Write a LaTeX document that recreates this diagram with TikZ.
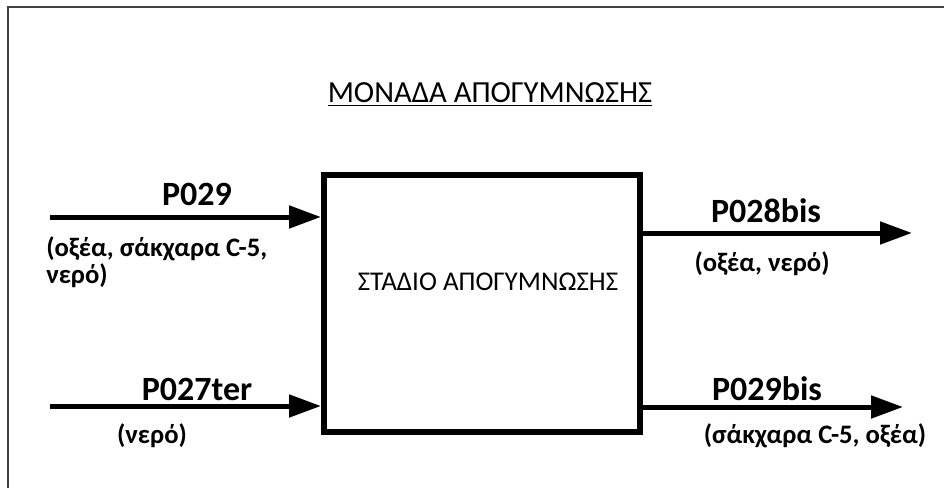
\documentclass[tikz,border=0pt]{standalone}
\usepackage{fontspec}
\setmainfont{Carlito}
\usetikzlibrary{arrows.meta}

\tikzset{
  flow/.style={line width=3.75pt, -{Triangle[length=24pt,width=16.5pt]}},
  plabel/.style={anchor=base, inner sep=0.75pt, font=\fontsize{25.5}{30}\selectfont\bfseries},
  slabel/.style={inner sep=0.75pt, font=\fontsize{20}{20.25}\selectfont\bfseries},
  frame/.style={line width=1.5pt, color=black!75},
}

\begin{document}
\begin{tikzpicture}[x=0.75pt,y=0.75pt,yscale=-1,xscale=1]
\useasboundingbox (0,0) rectangle (944,488);

% Frame
\draw [frame] (8,488) |- (944,7);

% Title
\node [anchor=base, inner sep=0.75pt, font=\fontsize{23}{27}\selectfont] (title) at (490,103) {\underline{ΜΟΝΑΔΑ ΑΠΟΓΥΜΝΩΣΗΣ}};

% Stage box
\node [draw, line width=4.5pt, minimum width=237pt, minimum height=192.75pt] (stage) at (482,303.5) {};
\node [anchor=base, inner sep=0.75pt, font=\fontsize{20.3}{24}\selectfont] (stagetext) at (488,290) {ΣΤΑΔΙΟ ΑΠΟΓΥΜΝΩΣΗΣ};

% Free ends of the streams
\coordinate (in1) at (50,217);
\coordinate (in2) at (50,406);
\coordinate (out1) at (912,233);
\coordinate (out2) at (903,407);

% Straight Lines
\draw [flow] (in1) -- (in1 -| stage.west);
\draw [flow] (in2) -- (in2 -| stage.west);
\draw [flow] (out1 -| stage.east) -- (out1);
\draw [flow] (out2 -| stage.east) -- (out2);

% Text Node
\node [plabel] (p029) at (197,205) {P029};
% Text Node
\node [slabel, anchor=base west, align=left] (p029txt) at (45,283) {(οξέα, σάκχαρα C-5,\\νερό)};
% Text Node
\node [plabel] (p027ter) at (197,400) {P027ter};
% Text Node
\node [slabel, anchor=base] (p027tertxt) at (152,443) {(νερό)};
% Text Node
\node [plabel] (p028bis) at (766,222) {P028bis};
% Text Node
\node [slabel, anchor=base] (p028bistxt) at (762,271) {(οξέα, νερό)};
% Text Node
\node [plabel] (p029bis) at (767,400) {P029bis};
% Text Node
\node [slabel, anchor=base] (p029bistxt) at (815,443) {(σάκχαρα C-5, οξέα)};

\end{tikzpicture}
\end{document}
